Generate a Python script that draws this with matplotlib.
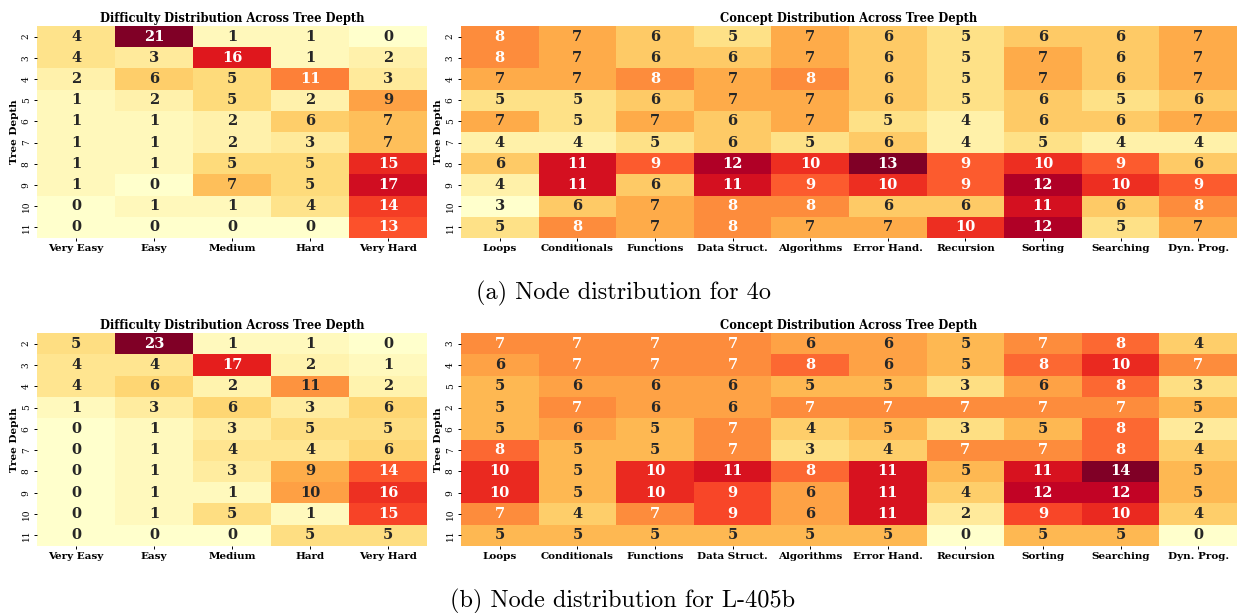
import numpy as np
import matplotlib
matplotlib.use("Agg")
import matplotlib.pyplot as plt
import seaborn as sns

difficulty = ["Very Easy", "Easy", "Medium", "Hard", "Very Hard"]
concepts = ["Loops", "Conditionals", "Functions", "Data Struct.", "Algorithms",
            "Error Hand.", "Recursion", "Sorting", "Searching", "Dyn. Prog."]

a_diff_rows = [2, 3, 4, 5, 6, 7, 8, 9, 10, 11]
a_diff = [
    [4, 21, 1, 1, 0],
    [4, 3, 16, 1, 2],
    [2, 6, 5, 11, 3],
    [1, 2, 5, 2, 9],
    [1, 1, 2, 6, 7],
    [1, 1, 2, 3, 7],
    [1, 1, 5, 5, 15],
    [1, 0, 7, 5, 17],
    [0, 1, 1, 4, 14],
    [0, 0, 0, 0, 13],
]
a_conc_rows = [2, 3, 4, 6, 5, 7, 8, 9, 10, 11]
a_conc = [
    [8, 7, 6, 5, 7, 6, 5, 6, 6, 7],
    [8, 7, 6, 6, 7, 6, 5, 7, 6, 7],
    [7, 7, 8, 7, 8, 6, 5, 7, 6, 7],
    [5, 5, 6, 7, 7, 6, 5, 6, 5, 6],
    [7, 5, 7, 6, 7, 5, 4, 6, 6, 7],
    [4, 4, 5, 6, 5, 6, 4, 5, 4, 4],
    [6, 11, 9, 12, 10, 13, 9, 10, 9, 6],
    [4, 11, 6, 11, 9, 10, 9, 12, 10, 9],
    [3, 6, 7, 8, 8, 6, 6, 11, 6, 8],
    [5, 8, 7, 8, 7, 7, 10, 12, 5, 7],
]
b_diff_rows = [2, 3, 4, 5, 6, 7, 8, 9, 10, 11]
b_diff = [
    [5, 23, 1, 1, 0],
    [4, 4, 17, 2, 1],
    [4, 6, 2, 11, 2],
    [1, 3, 6, 3, 6],
    [0, 1, 3, 5, 5],
    [0, 1, 4, 4, 6],
    [0, 1, 3, 9, 14],
    [0, 1, 1, 10, 16],
    [0, 1, 5, 1, 15],
    [0, 0, 0, 5, 5],
]
b_conc_rows = [3, 4, 5, 2, 6, 7, 8, 9, 10, 11]
b_conc = [
    [7, 7, 7, 7, 6, 6, 5, 7, 8, 4],
    [6, 7, 7, 7, 8, 6, 5, 8, 10, 7],
    [5, 6, 6, 6, 5, 5, 3, 6, 8, 3],
    [5, 7, 6, 6, 7, 7, 7, 7, 7, 5],
    [5, 6, 5, 7, 4, 5, 3, 5, 8, 2],
    [8, 5, 5, 7, 3, 4, 7, 7, 8, 4],
    [10, 5, 10, 11, 8, 11, 5, 11, 14, 5],
    [10, 5, 10, 9, 6, 11, 4, 12, 12, 5],
    [7, 4, 7, 9, 6, 11, 2, 9, 10, 4],
    [5, 5, 5, 5, 5, 5, 0, 5, 5, 0],
]
captions = ["(a) Node distribution for 4o", "(b) Node distribution for L-405b"]

W, H = 1239, 613
fig = plt.figure(figsize=(W / 100, H / 100), dpi=100)

SERIF = "DejaVu Serif"


def fr(x0, y0, x1, y1):
    return [x0 / W, 1 - y1 / H, (x1 - x0) / W, (y1 - y0) / H]


def draw(ax, data, rows, cols, title):
    sns.heatmap(np.array(data), ax=ax, cmap="YlOrRd", annot=True, fmt="d",
                cbar=False, xticklabels=cols, yticklabels=rows,
                annot_kws={"fontsize": 10.5, "fontweight": "bold", "family": SERIF})
    ax.set_title(title, fontsize=8.3, fontweight="bold", family=SERIF, pad=3)
    ax.set_ylabel("Tree Depth", fontsize=7.5, fontweight="bold", family=SERIF, labelpad=2)
    ax.set_xlabel("")
    for lab in ax.get_xticklabels():
        lab.set_fontsize(7.5)
        lab.set_fontweight("bold")
        lab.set_family(SERIF)
        lab.set_rotation(0)
    for lab in ax.get_yticklabels():
        lab.set_fontsize(6.5)
        lab.set_family(SERIF)
        lab.set_rotation(90)
        lab.set_va("center")
    ax.tick_params(axis="both", length=2.5, width=0.7, pad=2)


panels = [
    (a_diff, a_diff_rows, a_conc, a_conc_rows, 26, 238, 293),
    (b_diff, b_diff_rows, b_conc, b_conc_rows, 333, 546, 601),
]
for i, (dd, dr, cd, cr, top, bot, capy) in enumerate(panels):
    ax1 = fig.add_axes(fr(37, top, 427, bot))
    draw(ax1, dd, dr, difficulty, "Difficulty Distribution Across Tree Depth")
    ax2 = fig.add_axes(fr(461, top, 1237, bot))
    draw(ax2, cd, cr, concepts, "Concept Distribution Across Tree Depth")
    fig.text(623 / W, 1 - capy / H, captions[i], ha="center", va="center",
             fontsize=17.5, family="cmr10")

fig.savefig("out.png", dpi=100)
